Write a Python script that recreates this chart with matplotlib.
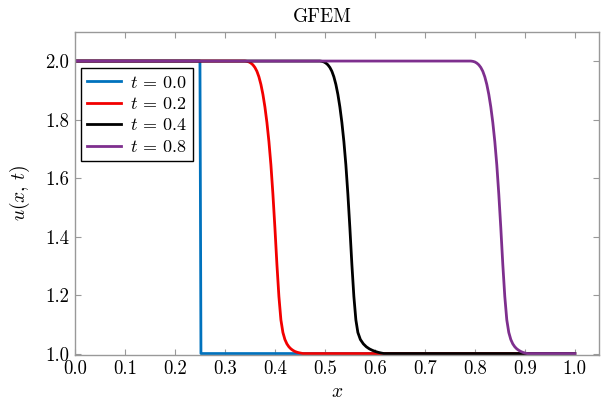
import matplotlib as mpl
mpl.use('Agg')
import matplotlib.pyplot as plt

# Computer Modern look
plt.rcParams['font.family'] = 'serif'
plt.rcParams['font.serif'] = ['cmr10']
plt.rcParams['mathtext.fontset'] = 'cm'
plt.rcParams['axes.formatter.use_mathtext'] = True
plt.rcParams['font.size'] = 13

# values
x_t00 = [0.0, 0.25, 0.252, 1.0]
u_t00 = [2.0, 2.0, 1.0, 1.0]

x_t02 = [0.0, 0.340, 0.344, 0.348, 0.352, 0.356, 0.360, 0.364, 0.368, 0.372, 0.376, 0.380,
         0.384, 0.388, 0.392, 0.396, 0.400, 0.404, 0.408, 0.412, 0.416, 0.420, 0.424, 0.428,
         0.432, 0.436, 0.440, 0.445, 0.450, 0.456, 1.0]
u_t02 = [2.0, 2.000, 1.999, 1.997, 1.993, 1.987, 1.978, 1.965, 1.946, 1.920, 1.886, 1.843,
         1.790, 1.725, 1.645, 1.545, 1.430, 1.305, 1.195, 1.115, 1.072, 1.048, 1.033, 1.023,
         1.016, 1.011, 1.007, 1.004, 1.002, 1.0, 1.0]

x_t04 = [0.0, 0.490, 0.494, 0.498, 0.502, 0.506, 0.510, 0.514, 0.518, 0.522, 0.526, 0.530,
         0.534, 0.538, 0.542, 0.546, 0.550, 0.554, 0.558, 0.562, 0.566, 0.571, 0.577, 0.583,
         0.589, 0.595, 0.601, 0.607, 0.612, 0.618, 1.0]
u_t04 = [2.0, 2.000, 1.999, 1.997, 1.993, 1.987, 1.978, 1.965, 1.946, 1.920, 1.886, 1.843,
         1.790, 1.725, 1.645, 1.545, 1.430, 1.305, 1.195, 1.115, 1.072, 1.048, 1.033, 1.023,
         1.016, 1.011, 1.007, 1.004, 1.002, 1.0, 1.0]

x_t08 = [0.0, 0.792, 0.796, 0.800, 0.804, 0.808, 0.812, 0.816, 0.820, 0.824, 0.828, 0.832,
         0.836, 0.840, 0.844, 0.848, 0.852, 0.856, 0.860, 0.864, 0.868, 0.872, 0.876, 0.880,
         0.884, 0.888, 0.892, 0.896, 0.900, 0.905, 1.0]
u_t08 = [2.0, 2.000, 1.999, 1.997, 1.993, 1.987, 1.978, 1.965, 1.946, 1.920, 1.886, 1.843,
         1.790, 1.725, 1.645, 1.545, 1.430, 1.305, 1.195, 1.115, 1.072, 1.048, 1.033, 1.023,
         1.016, 1.011, 1.007, 1.004, 1.002, 1.0, 1.0]

xticks = [0.0, 0.1, 0.2, 0.3, 0.4, 0.5, 0.6, 0.7, 0.8, 0.9, 1.0]
yticks = [1.0, 1.2, 1.4, 1.6, 1.8, 2.0]

fig = plt.figure(figsize=(6.02, 4.01), dpi=100)
ax = fig.add_axes([0.1246, 0.1147, 0.870, 0.806])

lw = 2.0
ax.plot(x_t00, u_t00, color='#0072BD', lw=lw, label=r'$t\,=\,0.0$')
ax.plot(x_t02, u_t02, color='#F20000', lw=lw, label=r'$t\,=\,0.2$')
ax.plot(x_t04, u_t04, color='black', lw=lw, label=r'$t\,=\,0.4$')
ax.plot(x_t08, u_t08, color='#7E2F8E', lw=lw, label=r'$t\,=\,0.8$')

ax.set_xlim(0.0, 1.048)
ax.set_ylim(0.995, 2.1)
ax.set_xticks(xticks)
ax.set_yticks(yticks)
ax.xaxis.set_major_formatter(mpl.ticker.FormatStrFormatter('%.1f'))
ax.yaxis.set_major_formatter(mpl.ticker.FormatStrFormatter('%.1f'))
ax.tick_params(direction='in', top=True, right=True, color='#999999', length=4,
               labelsize=13.5, pad=4)
for s in ax.spines.values():
    s.set_color('#999999')
    s.set_linewidth(1.0)

ax.set_xlabel(r'$x$', fontsize=14, labelpad=3)
ax.set_ylabel(r'$u(x,\,t)$', fontsize=14, labelpad=10)
ax.set_title('GFEM', fontsize=14, pad=7, x=0.473)

leg = ax.legend(loc='upper left', bbox_to_anchor=(0.011, 0.887), fancybox=False,
                edgecolor='black', framealpha=1, handlelength=1.9, labelspacing=0.3,
                borderpad=0.35, handletextpad=0.5, borderaxespad=0, fontsize=13)
leg.get_frame().set_linewidth(1.0)

fig.savefig('out.png', dpi=100)
